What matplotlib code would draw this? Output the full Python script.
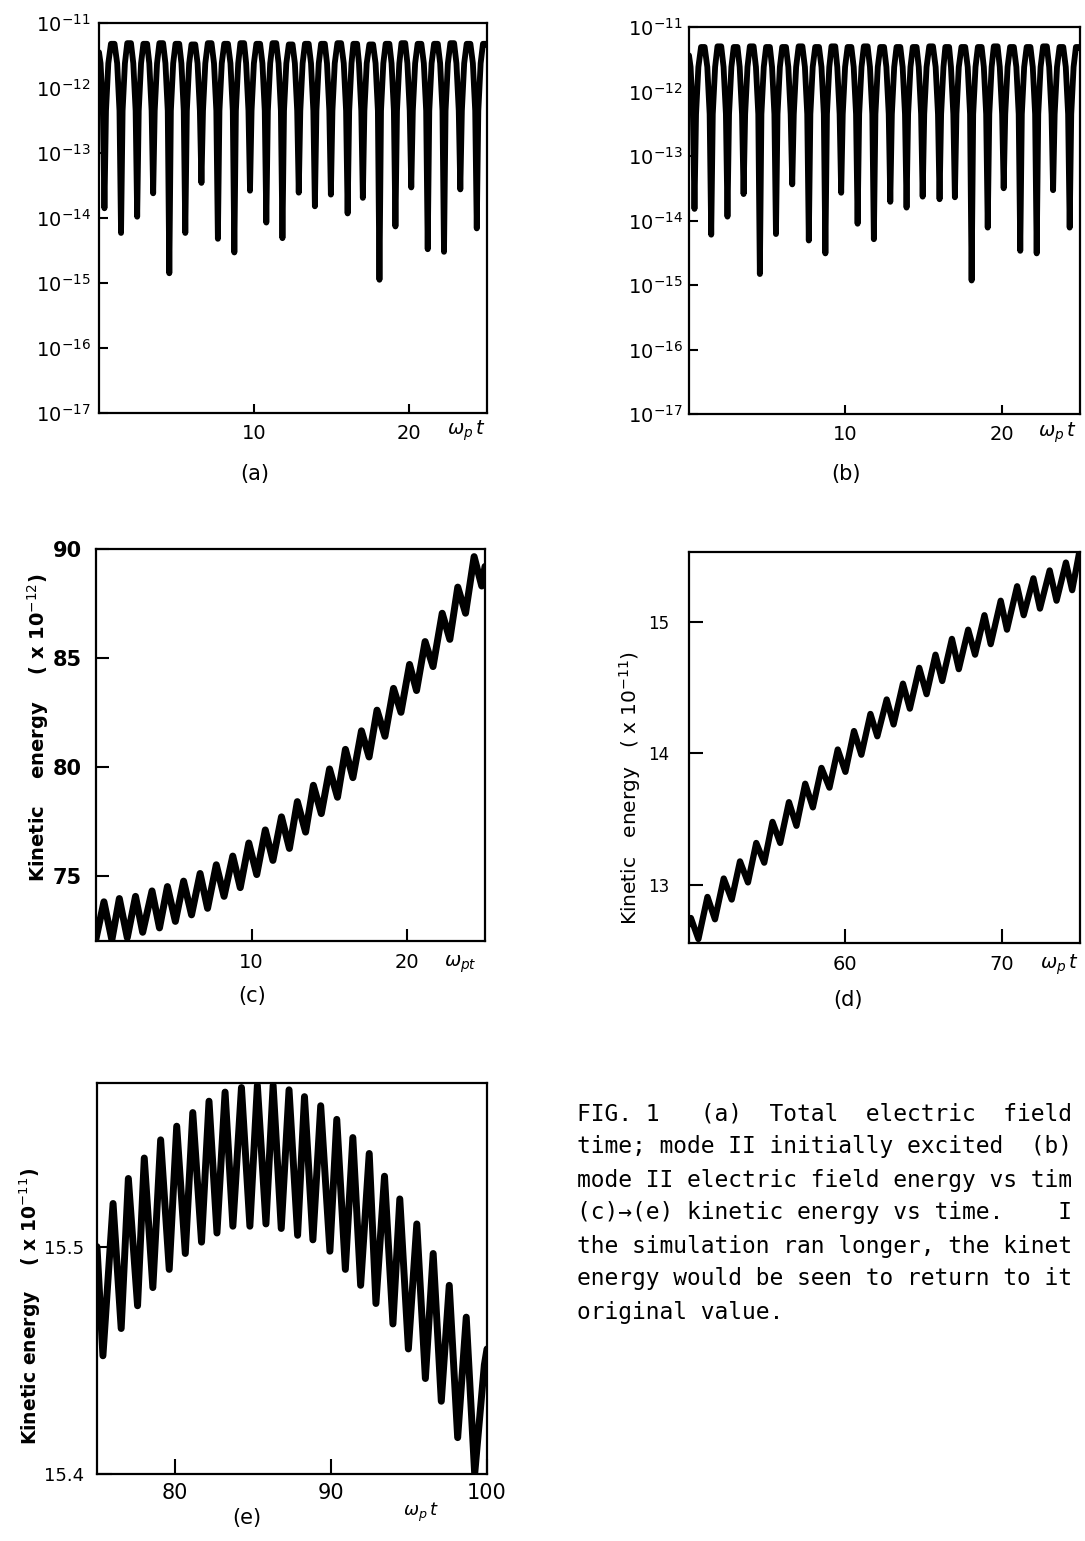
import numpy as np
import matplotlib
matplotlib.use("Agg")
import matplotlib.pyplot as plt

plt.rcParams['font.family'] = ['DejaVu Sans']
plt.rcParams['mathtext.fontset'] = 'dejavusans'

# ---- (a), (b): electric field energy, digitised trace, t vs log10(E) ----
# each row runs from one dip to just before the next one
t_field = [
    0.00, 0.10, 0.25,
    0.35, 0.45, 0.60, 0.77, 1.00, 1.17, 1.32,
    1.42, 1.52, 1.67, 1.82, 2.06, 2.21, 2.36,
    2.46, 2.56, 2.71, 2.86, 3.10, 3.24, 3.39,
    3.49, 3.59, 3.74, 3.89, 4.13, 4.28, 4.43,
    4.53, 4.63, 4.78, 4.93, 5.17, 5.31, 5.46,
    5.56, 5.66, 5.81, 5.96, 6.20, 6.35, 6.50,
    6.60, 6.70, 6.85, 7.01, 7.25, 7.41, 7.56,
    7.66, 7.76, 7.91, 8.07, 8.31, 8.47, 8.62,
    8.72, 8.82, 8.97, 9.11, 9.35, 9.48, 9.63,
    9.73, 9.83, 9.98, 10.14, 10.38, 10.53, 10.68,
    10.78, 10.88, 11.03, 11.18, 11.42, 11.57, 11.72,
    11.82, 11.92, 12.07, 12.23, 12.47, 12.62, 12.77,
    12.87, 12.97, 13.12, 13.27, 13.51, 13.66, 13.81,
    13.91, 14.01, 14.16, 14.31, 14.55, 14.69, 14.84,
    14.94, 15.04, 15.19, 15.36, 15.60, 15.77, 15.92,
    16.02, 16.12, 16.27, 16.39, 16.63, 16.75, 16.90,
    17.00, 17.10, 17.25, 17.42, 17.66, 17.82, 17.97,
    18.07, 18.17, 18.32, 18.47, 18.71, 18.85, 19.00,
    19.10, 19.20, 19.35, 19.49, 19.73, 19.87, 20.02,
    20.12, 20.22, 20.37, 20.53, 20.77, 20.93, 21.08,
    21.18, 21.28, 21.43, 21.59, 21.83, 21.98, 22.13,
    22.23, 22.33, 22.48, 22.64, 22.88, 23.03, 23.18,
    23.28, 23.38, 23.53, 23.69, 23.93, 24.09, 24.24,
    24.34, 24.44, 24.59, 24.74, 24.98,
    25.00,
]

log_total = [
    -11.45, -11.62, -12.35,
    -13.85, -12.35, -11.62, -11.32, -11.32, -11.62, -12.35,
    -14.23, -12.35, -11.62, -11.31, -11.31, -11.62, -12.35,
    -13.98, -12.35, -11.62, -11.32, -11.32, -11.62, -12.35,
    -13.62, -12.35, -11.62, -11.31, -11.31, -11.62, -12.35,
    -14.85, -12.35, -11.62, -11.32, -11.32, -11.62, -12.35,
    -14.23, -12.35, -11.62, -11.33, -11.33, -11.62, -12.35,
    -13.46, -12.35, -11.62, -11.31, -11.31, -11.62, -12.35,
    -14.32, -12.35, -11.62, -11.32, -11.32, -11.62, -12.35,
    -14.53, -12.35, -11.62, -11.31, -11.31, -11.62, -12.35,
    -13.58, -12.35, -11.62, -11.32, -11.32, -11.62, -12.35,
    -14.07, -12.35, -11.62, -11.31, -11.31, -11.62, -12.35,
    -14.31, -12.35, -11.62, -11.33, -11.33, -11.62, -12.35,
    -13.61, -12.35, -11.62, -11.32, -11.32, -11.62, -12.35,
    -13.82, -12.35, -11.62, -11.32, -11.32, -11.62, -12.35,
    -13.64, -12.35, -11.62, -11.31, -11.31, -11.62, -12.35,
    -13.93, -12.35, -11.62, -11.32, -11.32, -11.62, -12.35,
    -13.69, -12.35, -11.62, -11.33, -11.33, -11.62, -12.35,
    -14.95, -12.35, -11.62, -11.32, -11.32, -11.62, -12.35,
    -14.13, -12.35, -11.62, -11.31, -11.31, -11.62, -12.35,
    -13.53, -12.35, -11.62, -11.32, -11.32, -11.62, -12.35,
    -14.48, -12.35, -11.62, -11.32, -11.32, -11.62, -12.35,
    -14.52, -12.35, -11.62, -11.31, -11.31, -11.62, -12.35,
    -13.56, -12.35, -11.62, -11.32, -11.32, -11.62, -12.35,
    -14.16, -12.35, -11.62, -11.32, -11.32,
    -11.34,
]

log_mode2 = [
    -11.44, -11.62, -12.35,
    -13.82, -12.35, -11.62, -11.31, -11.31, -11.62, -12.35,
    -14.22, -12.35, -11.62, -11.30, -11.30, -11.62, -12.35,
    -13.94, -12.35, -11.62, -11.31, -11.31, -11.62, -12.35,
    -13.59, -12.35, -11.62, -11.30, -11.30, -11.62, -12.35,
    -14.83, -12.35, -11.62, -11.31, -11.31, -11.62, -12.35,
    -14.21, -12.35, -11.62, -11.31, -11.31, -11.62, -12.35,
    -13.44, -12.35, -11.62, -11.30, -11.30, -11.62, -12.35,
    -14.31, -12.35, -11.62, -11.31, -11.31, -11.62, -12.35,
    -14.51, -12.35, -11.62, -11.30, -11.30, -11.62, -12.35,
    -13.57, -12.35, -11.62, -11.31, -11.31, -11.62, -12.35,
    -14.05, -12.35, -11.62, -11.30, -11.30, -11.62, -12.35,
    -14.29, -12.35, -11.62, -11.31, -11.31, -11.62, -12.35,
    -13.71, -12.35, -11.62, -11.31, -11.31, -11.62, -12.35,
    -13.80, -12.35, -11.62, -11.31, -11.31, -11.62, -12.35,
    -13.63, -12.35, -11.62, -11.30, -11.30, -11.62, -12.35,
    -13.67, -12.35, -11.62, -11.31, -11.31, -11.62, -12.35,
    -13.64, -12.35, -11.62, -11.31, -11.31, -11.62, -12.35,
    -14.93, -12.35, -11.62, -11.31, -11.31, -11.62, -12.35,
    -14.11, -12.35, -11.62, -11.30, -11.30, -11.62, -12.35,
    -13.50, -12.35, -11.62, -11.31, -11.31, -11.62, -12.35,
    -14.47, -12.35, -11.62, -11.31, -11.31, -11.62, -12.35,
    -14.51, -12.35, -11.62, -11.30, -11.30, -11.62, -12.35,
    -13.53, -12.35, -11.62, -11.31, -11.31, -11.62, -12.35,
    -14.11, -12.35, -11.62, -11.31, -11.31,
    -11.33,
]

field_ylog_ticks = [-11, -12, -13, -14, -15, -16, -17]
field_xticks = [10, 20]

# ---- (c): kinetic energy (x 1e-12), turning points ----
t_c = [0.00, 0.51, 1.02, 1.50, 2.01, 2.54, 3.00, 3.60, 4.08, 4.59,
       5.10, 5.63, 6.14, 6.69, 7.17, 7.73, 8.23, 8.79, 9.27, 9.82,
       10.33, 10.88, 11.37, 11.92, 12.43, 12.94, 13.47, 13.97, 14.48, 15.01,
       15.52, 16.03, 16.51, 17.06, 17.55, 18.06, 18.57, 19.12, 19.60, 20.15,
       20.60, 21.15, 21.66, 22.25, 22.74, 23.25, 23.75, 24.30, 24.79, 25.00]
ke_c = [72.10, 73.80, 72.05, 73.95, 72.15, 74.05, 72.40, 74.30, 72.60, 74.50,
        72.90, 74.75, 73.20, 75.10, 73.50, 75.50, 74.05, 75.90, 74.45, 76.50,
        75.05, 77.10, 75.70, 77.70, 76.25, 78.40, 77.00, 79.15, 77.85, 79.90,
        78.60, 80.80, 79.50, 81.65, 80.45, 82.60, 81.40, 83.60, 82.50, 84.70,
        83.50, 85.75, 84.60, 87.05, 85.85, 88.25, 87.05, 89.65, 88.30, 89.20]
c_xticks = [10, 20]
c_yticks = [75, 80, 85, 90]

# ---- (d): kinetic energy (x 1e-11) ----
t_d = [50.00, 50.12, 50.60, 51.18, 51.66, 52.22, 52.73, 53.26, 53.77, 54.30,
       54.81, 55.34, 55.83, 56.39, 56.87, 57.43, 57.92, 58.47, 58.98, 59.51,
       60.00, 60.55, 61.02, 61.60, 62.04, 62.64, 63.08, 63.68, 64.12, 64.72,
       65.19, 65.76, 66.19, 66.81, 67.25, 67.85, 68.29, 68.89, 69.29, 69.93,
       70.33, 70.98, 71.40, 72.02, 72.44, 73.06, 73.50, 74.10, 74.50, 74.94]
ke_d = [12.70, 12.75, 12.59, 12.91, 12.74, 13.05, 12.89, 13.18, 13.02, 13.32,
        13.17, 13.48, 13.32, 13.63, 13.45, 13.77, 13.59, 13.89, 13.74, 14.03,
        13.86, 14.17, 13.99, 14.30, 14.13, 14.41, 14.22, 14.53, 14.34, 14.65,
        14.45, 14.75, 14.55, 14.87, 14.64, 14.94, 14.75, 15.05, 14.83, 15.16,
        14.94, 15.27, 15.05, 15.33, 15.10, 15.39, 15.16, 15.45, 15.24, 15.52]
d_xticks = [60, 70]
d_yticks = [13, 14, 15]

# ---- (e): kinetic energy (x 1e-11) ----
t_e = [75.00, 75.38, 76.03, 76.55, 77.01, 77.60, 78.03, 78.58, 79.08, 79.63,
       80.11, 80.66, 81.14, 81.70, 82.18, 82.69, 83.21, 83.71, 84.26, 84.80,
       85.28, 85.83, 86.29, 86.81, 87.31, 87.86, 88.30, 88.84, 89.34, 89.93,
       90.37, 90.92, 91.40, 91.90, 92.45, 92.88, 93.43, 93.97, 94.41, 94.96,
       95.50, 96.05, 96.55, 97.07, 97.58, 98.12, 98.67, 99.21, 99.83, 100.00]
ke_e = [15.500, 15.452, 15.519, 15.464, 15.530, 15.474, 15.539, 15.482, 15.547, 15.490,
        15.553, 15.497, 15.559, 15.502, 15.564, 15.506, 15.568, 15.509, 15.570, 15.509,
        15.571, 15.510, 15.571, 15.508, 15.569, 15.505, 15.566, 15.503, 15.562, 15.498,
        15.556, 15.490, 15.548, 15.483, 15.541, 15.475, 15.531, 15.466, 15.521, 15.455,
        15.510, 15.442, 15.497, 15.432, 15.483, 15.416, 15.469, 15.400, 15.448, 15.455]
e_xticks = [80, 90, 100]
e_yticks = [15.4, 15.5]
e_ytick_labels = ['15.4', '15.5']

# typewritten caption, as far as it runs on this sheet
caption = [
    "FIG. 1   (a)  Total  electric  field",
    "time; mode II initially excited  (b)",
    "mode II electric field energy vs tim",
    "(c)\u2192(e) kinetic energy vs time.    I",
    "the simulation ran longer, the kinet",
    "energy would be seen to return to it",
    "original value.",
]

# ---- figure in pixel coordinates ----
FIG_W, FIG_H = 1085, 1541
fig = plt.figure(figsize=(FIG_W / 100, FIG_H / 100), dpi=100)
fig.patch.set_facecolor('white')


def px_axes(left, top, right, bottom):
    return fig.add_axes([left / FIG_W, 1 - bottom / FIG_H,
                         (right - left) / FIG_W, (bottom - top) / FIG_H])


def px_text(x, y, s, **kw):
    return fig.text(x / FIG_W, 1 - y / FIG_H, s, **kw)


def frame(ax, ticklen, xpad, ypad):
    for sp in ax.spines.values():
        sp.set_linewidth(1.6)
        sp.set_color('black')
    ax.tick_params(which='both', direction='in', top=False, right=False,
                   length=ticklen, width=1.5, colors='black')
    ax.tick_params(axis='x', pad=xpad)
    ax.tick_params(axis='y', pad=ypad)


CURVE = dict(color='black', solid_joinstyle='round', solid_capstyle='round')

# (a) and (b) --------------------------------------------------------------
field_panels = [
    ((99, 23, 487, 413), log_total, 6.0, 8),
    ((689, 27, 1080, 414), log_mode2, 4.5, 8),
]
for box, logs, ypad, xpad in field_panels:
    ax = px_axes(*box)
    ax.plot(t_field, 10.0 ** np.array(logs), lw=4.2, **CURVE)
    ax.set_yscale('log')
    ax.set_xlim(0, 25)
    ax.set_ylim(1e-17, 1e-11)
    ax.minorticks_off()
    ax.set_yticks(10.0 ** np.array(field_ylog_ticks, dtype=float))
    ax.set_yticklabels([rf'$10^{{{k}}}$' for k in field_ylog_ticks], fontsize=14)
    ax.set_xticks(field_xticks)
    ax.set_xticklabels([str(v) for v in field_xticks], fontsize=14)
    frame(ax, 6.5, xpad, ypad)

px_text(255, 474, '(a)', ha='center', va='center', fontsize=15)
px_text(447, 431, r'$\omega_p\,t$', ha='left', va='center', fontsize=14)
px_text(846, 474, '(b)', ha='center', va='center', fontsize=15)
px_text(1038, 433, r'$\omega_p\,t$', ha='left', va='center', fontsize=14)

# (c) ----------------------------------------------------------------------
ax = px_axes(96, 549, 485, 941)
ax.plot(t_c, ke_c, lw=5.0, **CURVE)
ax.set_xlim(0, 25)
ax.set_ylim(72, 90)
ax.set_xticks(c_xticks)
ax.set_xticklabels([str(v) for v in c_xticks], fontsize=14)
ax.set_yticks(c_yticks)
ax.set_yticklabels([str(v) for v in c_yticks], fontsize=15, fontweight='bold')
frame(ax, 9, 8.5, 10)

px_text(38, 728, r'Kinetic    energy    ( x 10$^{-12}$)', rotation=90,
        ha='center', va='center', fontsize=14, fontweight='bold')
px_text(252, 996, '(c)', ha='center', va='center', fontsize=15)
px_text(444, 964, r'$\omega_{pt}$', ha='left', va='center', fontsize=14)

# (d) ----------------------------------------------------------------------
ax = px_axes(689, 552, 1080, 943)
ax.plot(t_d, ke_d, lw=4.5, **CURVE)
ax.set_xlim(50, 75)
ax.set_ylim(12.56, 15.53)
ax.set_xticks(d_xticks)
ax.set_xticklabels([str(v) for v in d_xticks], fontsize=14)
ax.set_yticks(d_yticks)
ax.set_yticklabels([str(v) for v in d_yticks], fontsize=12)
frame(ax, 10, 8.5, 14)

px_text(630, 788, r'Kinetic   energy   ( x 10$^{-11}$)', rotation=90,
        ha='center', va='center', fontsize=14.5)
px_text(848, 1000, '(d)', ha='center', va='center', fontsize=15)
px_text(1040, 965, r'$\omega_p\,t$', ha='left', va='center', fontsize=14)

# (e) ----------------------------------------------------------------------
ax = px_axes(97, 1083, 487, 1474)
ax.plot(t_e, ke_e, lw=5.0, **CURVE)
ax.set_xlim(75, 100)
ax.set_ylim(15.4, 15.572)
ax.set_xticks(e_xticks)
ax.set_xticklabels([str(v) for v in e_xticks], fontsize=15)
ax.set_yticks(e_yticks)
ax.set_yticklabels(e_ytick_labels, fontsize=13)
frame(ax, 11, 6.5, 9)

px_text(30, 1306, r'Kinetic energy    ( x 10$^{-11}$)', rotation=90,
        ha='center', va='center', fontsize=13.5, fontweight='bold')
px_text(247, 1518, '(e)', ha='center', va='center', fontsize=15)
px_text(403, 1512, r'$\omega_p\,t$', ha='left', va='center', fontsize=13)

# caption ------------------------------------------------------------------
for i, line in enumerate(caption):
    px_text(577, 1114 + 33 * i, line, ha='left', va='center',
            family='DejaVu Sans Mono', fontsize=16.5)

fig.savefig('out.png', dpi=100, facecolor='white')
